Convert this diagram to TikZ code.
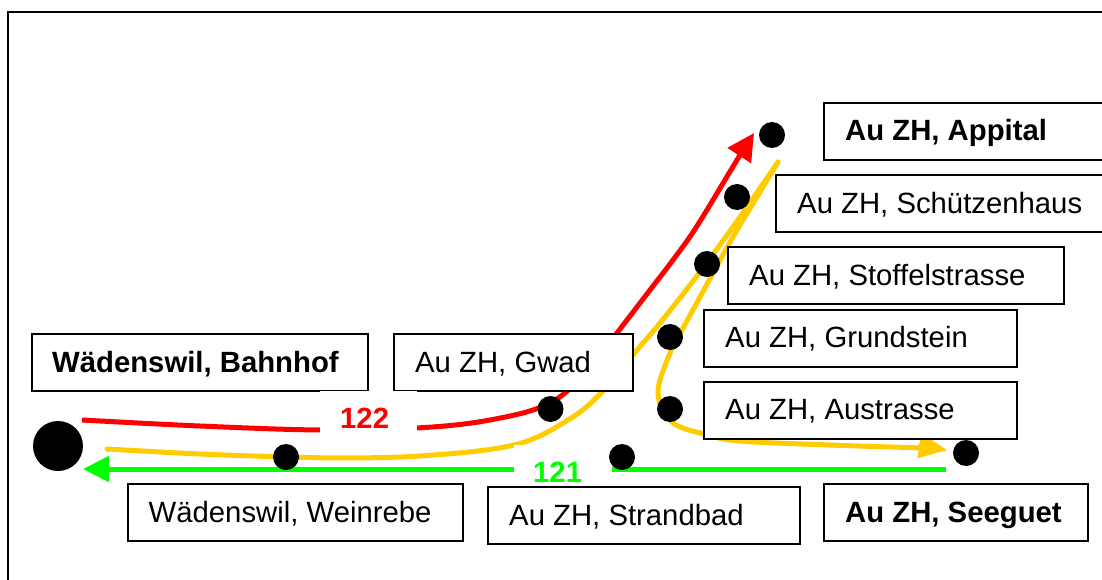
\documentclass[tikz,border=0pt]{standalone}
\usepackage{fontspec}
\setmainfont{Liberation Sans}
\usetikzlibrary{arrows.meta}
\definecolor{lred}{RGB}{255,0,0}
\definecolor{lgreen}{RGB}{0,255,0}
\definecolor{lyellow}{RGB}{255,204,0}
\tikzset{
  labelbox/.style={draw=black,line width=2pt,fill=white},
  labeltext/.style={anchor=base west,inner sep=0pt,font=\fontsize{29.3}{32}\selectfont},
  boldtext/.style={labeltext,font=\fontsize{29.3}{32}\selectfont\bfseries},
  stopdot/.style={circle,fill=black,draw=none,minimum size=26pt,inner sep=0pt},
  bigdot/.style={circle,fill=black,draw=none,minimum size=50pt,inner sep=0pt},
  routeline/.style={line width=5pt}
}
\begin{document}
\begin{tikzpicture}[x=1pt,y=-1pt]
\useasboundingbox (0,0) rectangle (1102,580);
\fill[white] (0,0) rectangle (1102,580);
\draw[line width=2pt] (8,580) -- (8,12) -- (1102,12);
% connector end points
\coordinate (redstart) at (82,420);
\coordinate (redtip) at (754,133);
\coordinate (yellowstart) at (107,449);
\coordinate (yellowturn) at (778,162);
\coordinate (yellowtip) at (947,450);
\coordinate (greenstart) at (946,469);
\coordinate (greentip) at (83,469);
% routes
\draw[lred,routeline,-{Triangle[length=27pt,width=27pt]}] plot[smooth,tension=0.6] coordinates {(redstart) (200,426) (320,430) (417,428) (490,420) (550,403) (590,368) (617,333) (650,290) (673,260) (697,226) (737,160) (redtip)};
\draw[lyellow,routeline,line cap=round] plot[smooth,tension=0.6] coordinates {(yellowstart) (200,454) (286,457) (330,458) (420,456) (514,445) (568,420) (601,393) (637,350) (660,323) (700,272) (740,217) (yellowturn)};
\draw[lyellow,routeline,line cap=round,-{Triangle[length=28pt,width=24pt]}] plot[smooth,tension=0.6] coordinates {(yellowturn) (757,197) (733,237) (700,297) (682,330) (670,353) (658,393) (672,422) (704,434) (740,441) (830,445) (920,448) (yellowtip)};
\draw[lgreen,routeline,-{Triangle[length=26pt,width=25pt]}] (greenstart) -- (greentip);
% label boxes
\draw[labelbox] (32,334) rectangle (368,391);
\draw[labelbox] (394,334) rectangle (633,391);
\draw[labelbox] (127.5,484) rectangle (462.5,541);
\draw[labelbox] (488,487) rectangle (800,544);
\draw[labelbox] (824,484) rectangle (1088,541);
\draw[labelbox] (704,382) rectangle (1017,439);
\draw[labelbox] (704,310) rectangle (1017,367);
\draw[labelbox] (728,247) rectangle (1064,304);
\draw[labelbox] (776,175) rectangle (1112,232);
\draw[labelbox] (824,103) rectangle (1112,160);
% labels
\node[boldtext] (tbahnhof) at (52,372) {Wädenswil, Bahnhof};
\node[labeltext] (tgwad) at (415,372) {Au ZH, Gwad};
\node[labeltext] (tweinrebe) at (148.5,522) {Wädenswil, Weinrebe};
\node[labeltext] (tstrandbad) at (509,525) {Au ZH, Strandbad};
\node[boldtext] (tseeguet) at (845,522) {Au ZH, Seeguet};
\node[labeltext] (taustrasse) at (725,419) {Au ZH, Austrasse};
\node[labeltext] (tgrundstein) at (725,347) {Au ZH, Grundstein};
\node[labeltext] (tstoffel) at (749,285) {Au ZH, Stoffelstrasse};
\node[labeltext] (tschuetzen) at (797,213) {Au ZH, Schützenhaus};
\node[boldtext] (tappital) at (845,141) {Au ZH, Appital};
% line numbers
\fill[white] (320,391) rectangle (417,435);
\fill[white] (514,445) rectangle (612,485);
\node[boldtext,text=lred] (n122) at (340,428) {122};
\node[boldtext,text=lgreen] (n121) at (533,482) {121};
% stops
\node[bigdot] (sbahnhof) at (58,446) {};
\node[stopdot] (sweinrebe) at (286,457) {};
\node[stopdot] (sgwad) at (550.5,409) {};
\node[stopdot] (sstrandbad) at (622,457) {};
\node[stopdot] (saustrasse) at (670,409) {};
\node[stopdot] (sgrundstein) at (670,337) {};
\node[stopdot] (sstoffel) at (707,264) {};
\node[stopdot] (sschuetzen) at (737,197) {};
\node[stopdot] (sappital) at (772,135) {};
\node[stopdot] (sseeguet) at (966,453) {};
\end{tikzpicture}
\end{document}
